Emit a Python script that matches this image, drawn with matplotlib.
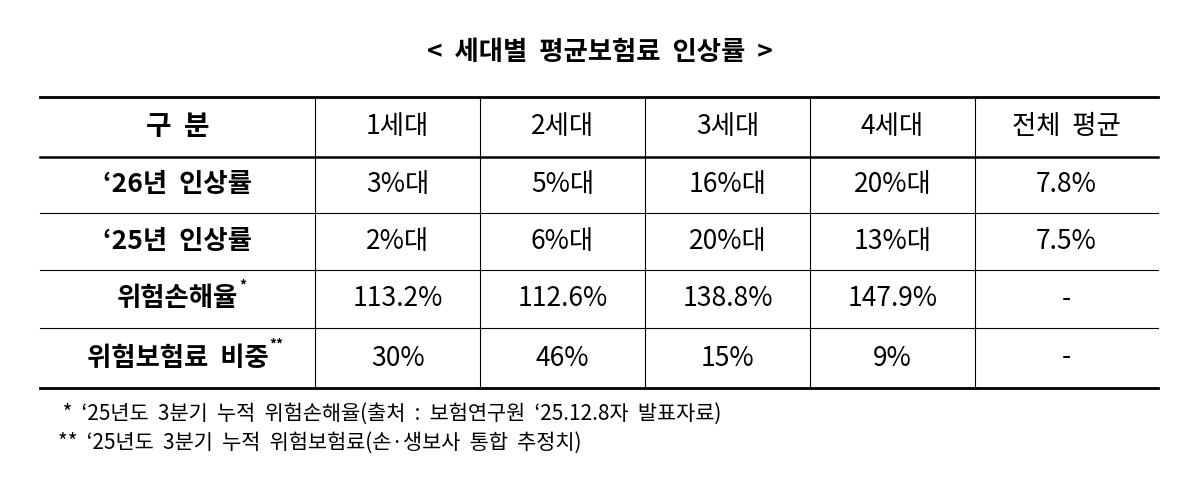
import matplotlib
matplotlib.use("Agg")
import matplotlib.pyplot as plt

plt.rcParams["font.family"] = ["Noto Sans CJK KR", "DejaVu Sans"]

title = "<  세대별  평균보험료  인상률  >"
header = ["구  분", "1세대", "2세대", "3세대", "4세대", "전체  평균"]
row_labels = ["‘26년  인상률", "‘25년  인상률", "위험손해율", "위험보험료  비중"]
row_marks = ["", "", "*", "**"]
values = [
    ["3%대", "5%대", "16%대", "20%대", "7.8%"],
    ["2%대", "6%대", "20%대", "13%대", "7.5%"],
    ["113.2%", "112.6%", "138.8%", "147.9%", "-"],
    ["30%", "46%", "15%", "9%", "-"],
]
notes = [
    " *  ‘25년도  3분기  누적  위험손해율(출처  :  보험연구원  ‘25.12.8자  발표자료)",
    "**  ‘25년도  3분기  누적  위험보험료(손·생보사  통합  추정치)",
]

col_x = [40, 315, 480, 645, 810, 975, 1158]
row_y = [97, 157, 213, 270, 328, 388]

fig = plt.figure(figsize=(12, 5.04), dpi=100)
ax = fig.add_axes([0, 0, 1, 1])
ax.set_xlim(0, 1200)
ax.set_ylim(504, 0)
ax.axis("off")

ax.text(600, 52, title, ha="center", va="center", fontsize=19, fontweight="bold")

ax.plot([col_x[0], col_x[-1]], [row_y[0]] * 2, color="black", lw=2)
ax.plot([col_x[0], col_x[-1]], [row_y[1]] * 2, color="black", lw=1.8)
for y in row_y[2:-1]:
    ax.plot([col_x[0], col_x[-1]], [y, y], color="black", lw=0.8)
ax.plot([col_x[0], col_x[-1]], [row_y[-1]] * 2, color="black", lw=2)
for x in col_x[1:-1]:
    ax.plot([x, x], [row_y[0], row_y[-1]], color="black", lw=0.8)

def cx(i):
    return (col_x[i] + col_x[i + 1]) / 2

def cy(j):
    return (row_y[j] + row_y[j + 1]) / 2

for i, h in enumerate(header):
    ax.text(cx(i), cy(0), h, ha="center", va="center",
            fontsize=20 if i == 0 else 19,
            fontweight="bold" if i == 0 else "normal")

fig.canvas.draw()
r = fig.canvas.get_renderer()
for j, (lab, mark) in enumerate(zip(row_labels, row_marks)):
    t = ax.text(cx(0), cy(j + 1), lab, ha="center", va="center",
                fontsize=19, fontweight="bold")
    if mark:
        bb = t.get_window_extent(r)
        ax.text(bb.x1 + 1, cy(j + 1) - 13, mark, ha="left",
                va="center", fontsize=10, fontweight="bold")
    for i, v in enumerate(values[j]):
        ax.text(cx(i + 1), cy(j + 1), v, ha="center", va="center", fontsize=19)

for k, n in enumerate(notes):
    ax.text(58, 414 + 29 * k, n, ha="left", va="center", fontsize=15)

fig.savefig("out.png", dpi=100)
